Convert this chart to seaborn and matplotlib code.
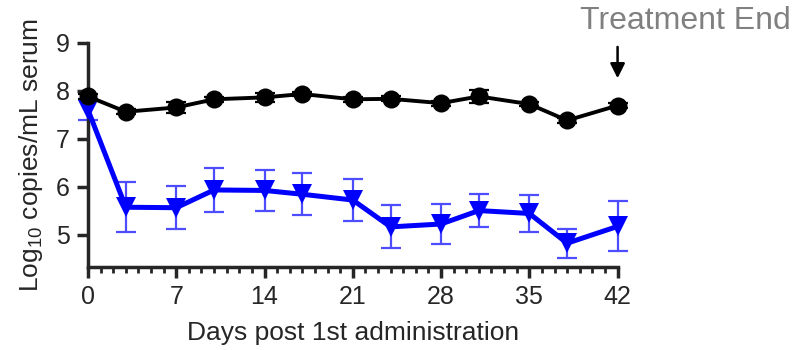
import numpy as np
import pandas as pd
import matplotlib
matplotlib.use("Agg")
import matplotlib.pyplot as plt
import seaborn as sns
from matplotlib.ticker import MultipleLocator

days = [0, 3, 7, 10, 14, 17, 21, 24, 28, 31, 35, 38, 42]
control_mean = [7.88, 7.56, 7.65, 7.82, 7.86, 7.93, 7.82, 7.83, 7.74, 7.88, 7.72, 7.38, 7.69]
control_err = [0.06, 0.05, 0.12, 0.05, 0.1, 0.05, 0.05, 0.05, 0.05, 0.14, 0.05, 0.05, 0.05]
treated_mean = [7.6, 5.57, 5.56, 5.93, 5.92, 5.84, 5.72, 5.16, 5.22, 5.5, 5.44, 4.82, 5.17]
treated_err = [0.22, 0.52, 0.45, 0.45, 0.43, 0.44, 0.43, 0.45, 0.42, 0.34, 0.39, 0.3, 0.52]

x_ticks = [0, 7, 14, 21, 28, 35, 42]
y_ticks = [5, 6, 7, 8, 9]

df = pd.DataFrame({
    "day": days * 2,
    "value": control_mean + treated_mean,
    "group": ["Control"] * len(days) + ["Treated"] * len(days),
})

sns.set_style("ticks")
plt.rcParams["font.family"] = ["Liberation Sans", "DejaVu Sans"]
plt.rcParams["mathtext.default"] = "regular"

fig = plt.figure(figsize=(7.94, 3.5), dpi=100)
ax = fig.add_axes([0.1108, 0.238, 0.667, 0.640])

# error bars
ax.errorbar(days, treated_mean, yerr=treated_err, fmt="none", ecolor="#4d4dff",
            elinewidth=1.6, capsize=7, capthick=1.6, clip_on=False, zorder=2)
ax.errorbar(days, control_mean, yerr=control_err, fmt="none", ecolor="black",
            elinewidth=1.6, capsize=7, capthick=1.6, clip_on=False, zorder=2)

sns.lineplot(data=df[df.group == "Treated"], x="day", y="value", ax=ax,
             color="#0000ff", linewidth=3.6, marker="v", markersize=14,
             markeredgewidth=0, legend=False, zorder=3, clip_on=False)
sns.lineplot(data=df[df.group == "Control"], x="day", y="value", ax=ax,
             color="black", linewidth=2.8, marker="o", markersize=13,
             markeredgewidth=0, legend=False, zorder=4, clip_on=False)

ax.set_xlim(0, 42)
ax.set_ylim(4.33, 9)
ax.set_xticks(x_ticks)
ax.set_xticklabels([str(t) for t in x_ticks])
ax.xaxis.set_minor_locator(MultipleLocator(1))
ax.set_yticks(y_ticks)
ax.spines["top"].set_visible(False)
ax.spines["right"].set_visible(False)
ax.spines["left"].set_bounds(4.33, 9)
for s in ("left", "bottom"):
    ax.spines[s].set_linewidth(2.5)
ax.tick_params(axis="both", which="major", length=8, width=2.5, labelsize=18, pad=5)
ax.tick_params(axis="x", which="minor", length=4.5, width=2.0)

ax.set_xlabel("Days post 1st administration", fontsize=19, labelpad=9)
ax.set_ylabel(r"Log$_{10}$ copies/mL serum", fontsize=19, labelpad=8)

ax.annotate("", xy=(42, 8.2), xytext=(42, 8.97),
            arrowprops=dict(arrowstyle="-|>", color="black", lw=1.8,
                            mutation_scale=22), annotation_clip=False)
fig.text(0.996, 0.94, "Treatment End", ha="right", va="center",
         fontsize=23, color="#808080")

fig.savefig("out.png", dpi=100)
